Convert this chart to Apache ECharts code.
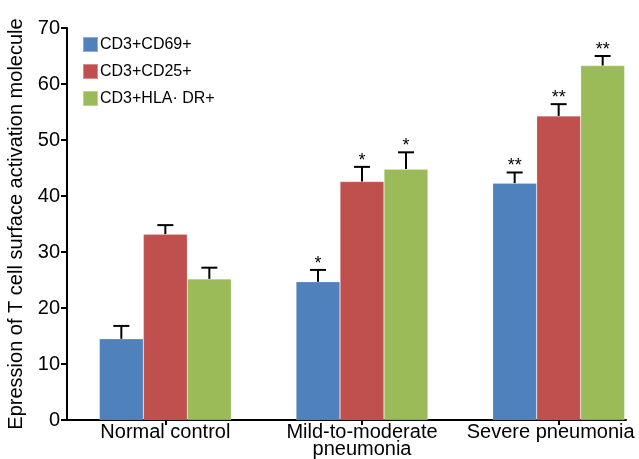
<!DOCTYPE html>
<html><head><meta charset="utf-8">
<script src="https://cdn.jsdelivr.net/npm/echarts@6/dist/echarts.min.js"></script>
<style>html,body{margin:0;padding:0;background:#fff}#c{width:639px;height:459px}</style>
</head><body><div id="c"></div>
<script>
var categories = ['Normal control', 'Mild-to-moderate\npneumonia', 'Severe pneumonia'];
var seriesNames = ['CD3+CD69+', 'CD3+CD25+', 'CD3+HLA· DR+'];
var cd69 = [14.5, 24.7, 42.3];
var cd69Err = [2.3, 2.1, 1.9];
var cd69Sig = ['', '*', '**'];
var cd25 = [33.2, 42.6, 54.3];
var cd25Err = [1.6, 2.6, 2.1];
var cd25Sig = ['', '*', '**'];
var hla = [25.2, 44.8, 63.3];
var hlaErr = [2.0, 3.0, 1.7];
var hlaSig = ['', '*', '**'];
var yTicks = [0, 10, 20, 30, 40, 50, 60, 70];

var colors = ['#4F81BD', '#C0504D', '#9BBB59'];
var values = [cd69, cd25, hla];
var errs = [cd69Err, cd25Err, hlaErr];
var sigs = [cd69Sig, cd25Sig, hlaSig];
var BAR_W = 44;
var FONT = 'Liberation Sans, Arial, sans-serif';

var chart = echarts.init(document.getElementById('c'), null, {renderer: 'canvas'});
var series = [];
values.forEach(function (vals, s) {
  series.push({
    name: seriesNames[s], type: 'bar', data: vals, barWidth: BAR_W, barGap: '0%',
    itemStyle: {color: colors[s], borderColor: 'rgba(255,255,255,0.35)', borderWidth: 0.6},
    xAxisIndex: 0, yAxisIndex: 0
  });
});
values.forEach(function (vals, s) {
  var data = vals.map(function (v, i) { return [i, v, errs[s][i], sigs[s][i]]; });
  series.push({
    type: 'custom', xAxisIndex: 0, yAxisIndex: 0, z: 5, silent: true,
    data: data,
    renderItem: function (params, api) {
      var i = api.value(0), v = api.value(1), e = api.value(2);
      var sig = data[params.dataIndex][3];
      var base = api.coord([i, v]);
      var top = api.coord([i, v + e]);
      var x = base[0] + (s - 1) * BAR_W;
      var half = 8;
      var st = {stroke: '#000', lineWidth: 2};
      var children = [
        {type: 'line', shape: {x1: x, y1: base[1], x2: x, y2: top[1]}, style: st},
        {type: 'line', shape: {x1: x - half, y1: top[1], x2: x + half, y2: top[1]}, style: st}
      ];
      if (sig) {
        children.push({type: 'text', style: {text: sig, x: x, y: top[1] + 3, textAlign: 'center', textVerticalAlign: 'bottom', fontSize: 18, fontFamily: FONT, fill: '#000'}});
      }
      return {type: 'group', children: children};
    }
  });
});

chart.setOption({
  animation: false,
  backgroundColor: '#fff',
  textStyle: {fontFamily: FONT},
  grid: [
    {left: 67, top: 28, bottom: 39, width: 590, containLabel: false, outerBoundsMode: 'none'},
    {left: 67, top: 28, bottom: 39, width: 559, containLabel: false, outerBoundsMode: 'none'}
  ],
  legend: {
    data: seriesNames, orient: 'vertical', left: 77, top: 31,
    itemWidth: 15, itemHeight: 15, itemGap: 10, icon: 'rect',
    textStyle: {fontSize: 16, color: '#000', fontFamily: FONT, padding: [0, 0, 0, -3]}
  },
  xAxis: [
    {
      type: 'category', data: categories, gridIndex: 0,
      axisLine: {show: false},
      axisTick: {show: true, alignWithLabel: true, length: 5, lineStyle: {color: '#000', width: 2}},
      axisLabel: {
        fontSize: 20, color: '#000', margin: 4, lineHeight: 17, fontFamily: FONT, interval: 0,
        formatter: function (val, idx) { return idx === categories.length - 1 ? '{sh|' + val + '}' : val; },
        rich: {sh: {fontSize: 20, color: '#000', lineHeight: 17, fontFamily: FONT, padding: [0, 16, 0, 0]}}
      }
    },
    {
      type: 'value', gridIndex: 1, min: 0, max: 1,
      axisLine: {show: true, lineStyle: {color: '#000', width: 2}},
      axisTick: {show: false}, axisLabel: {show: false}, splitLine: {show: false}
    }
  ],
  yAxis: [
    {
      type: 'value', gridIndex: 0, min: yTicks[0], max: yTicks[yTicks.length - 1], interval: 10,
      name: 'Epression of T cell surface activation molecule',
      nameLocation: 'middle', nameGap: 40,
      nameTextStyle: {fontSize: 20, color: '#000', fontFamily: FONT},
      axisLine: {show: true, lineStyle: {color: '#000', width: 2}},
      axisTick: {show: true, length: 6, lineStyle: {color: '#000', width: 2}},
      axisLabel: {fontSize: 20, color: '#000', margin: 7, fontFamily: FONT},
      splitLine: {show: false}
    },
    {type: 'value', gridIndex: 1, min: 0, max: 1, show: false}
  ],
  series: series
});
</script>
</body></html>
